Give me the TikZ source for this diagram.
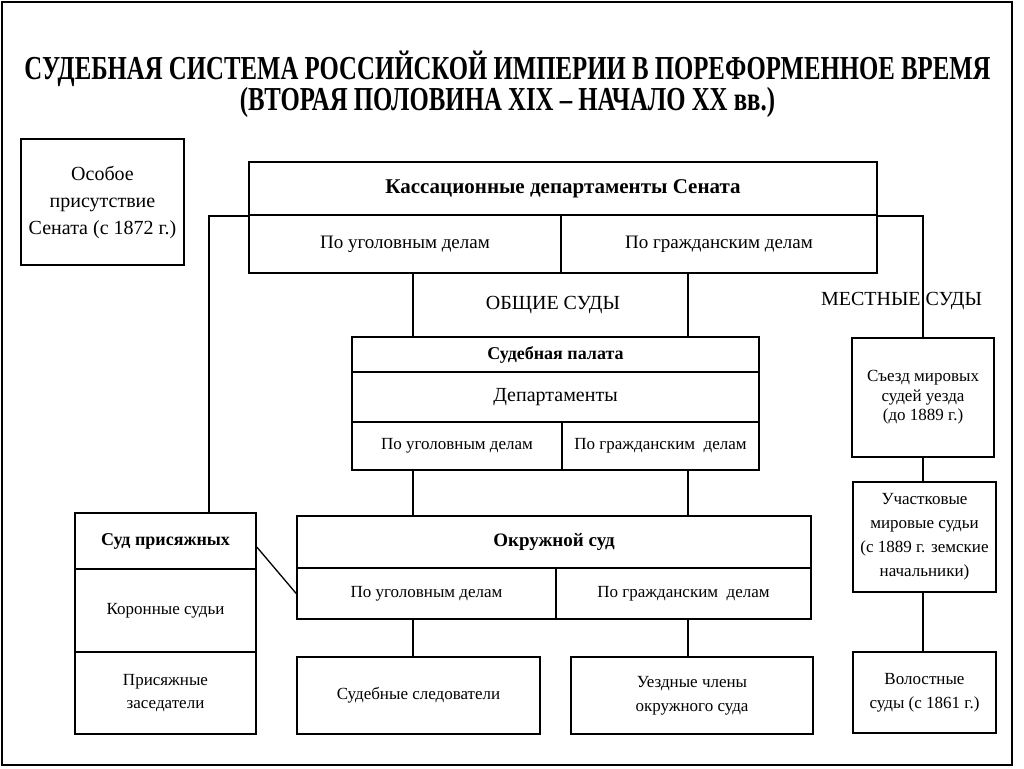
\documentclass[tikz,border=0pt]{standalone}
\usepackage{fontspec}
\usepackage{graphicx}
\setmainfont{Liberation Serif}
\newfontfamily\titlefont[FakeStretch=0.74]{Liberation Serif Bold}
\begin{document}
\begin{tikzpicture}[x=1pt,y=-1pt,
  box/.style={draw, line width=1.6pt, inner sep=0pt, align=center, anchor=center},
  ln/.style={line width=1.6pt},
  fA/.style={font=\fontsize{17}{20}\selectfont},
  fB/.style={font=\fontsize{19}{22}\selectfont},
  hd/.style={font=\fontsize{19}{22}\selectfont\bfseries}
]
\useasboundingbox (0,0) rectangle (1024,768);
\draw[line width=1.5pt] (2,2) rectangle (1012,765);

% title
\node[anchor=base, inner sep=0pt, align=center, font=\titlefont\fontsize{33.5}{30.5}\selectfont] (title) at (507.5,110) {СУДЕБНАЯ СИСТЕМА РОССИЙСКОЙ ИМПЕРИИ В ПОРЕФОРМЕННОЕ ВРЕМЯ\\(ВТОРАЯ ПОЛОВИНА XIX – НАЧАЛО XX вв.)};

% helper coordinates for vertical connectors
\coordinate (cA) at (209,0);
\coordinate (cL) at (413,0);
\coordinate (cR) at (688,0);
\coordinate (cM) at (923,0);

% Особое присутствие
\node[box, minimum width=163, minimum height=126, font=\fontsize{20}{27}\selectfont] (osob) at (102.5,202) {Особое\\присутствие\\Сената (с 1872 г.)};

% Кассационные департаменты
\node[box, minimum width=628, minimum height=53, font=\fontsize{21}{24}\selectfont\bfseries] (kasT) at (563,188.5) {Кассационные департаменты Сената};
\node[box, minimum width=312, minimum height=58, fB] (kasL) at (405,244) {По уголовным делам};
\node[box, minimum width=316, minimum height=58, fB] (kasR) at (719,244) {По гражданским делам};

% labels
\node[inner sep=0pt, font=\fontsize{20}{22}\selectfont] (obsh) at (553,305) {ОБЩИЕ СУДЫ};
\node[inner sep=0pt, font=\fontsize{20}{22}\selectfont] (mest) at (901.5,301) {МЕСТНЫЕ СУДЫ};

% Судебная палата
\node[box, minimum width=407, minimum height=35, font=\fontsize{18}{20}\selectfont\bfseries] (spT) at (555.5,354.5) {Судебная палата};
\node[box, minimum width=407, minimum height=50, font=\fontsize{20}{22}\selectfont] (spM) at (555.5,397) {Департаменты};
\node[box, minimum width=210, minimum height=48, fA] (spL) at (457,446) {По уголовным делам};
\node[box, minimum width=197, minimum height=48, fA] (spR) at (660.5,446) {По гражданским\ \ делам};

% Окружной суд
\node[box, minimum width=514, minimum height=52, hd] (okT) at (554,542) {Окружной суд};
\node[box, minimum width=259, minimum height=51, fA] (okL) at (426.5,593.5) {По уголовным делам};
\node[box, minimum width=255, minimum height=51, fA] (okR) at (683.5,593.5) {По гражданским\ \ делам};

% Суд присяжных
\node[box, minimum width=181, minimum height=56, font=\fontsize{18}{20}\selectfont\bfseries] (prisT) at (165.5,541) {Суд присяжных};
\node[box, minimum width=181, minimum height=83, fA] (prisM) at (165.5,610.5) {Коронные судьи};
\node[box, minimum width=181, minimum height=82, font=\fontsize{17}{23}\selectfont] (prisB) at (165.5,693) {Присяжные\\заседатели};

% bottom boxes
\node[box, minimum width=243, minimum height=77, fA] (sled) at (418.5,695.5) {Судебные следователи};
\node[box, minimum width=242, minimum height=77, font=\fontsize{17}{24}\selectfont] (uezd) at (692,695.5) {Уездные члены\\окружного суда};

% местные суды
\node[box, minimum width=142, minimum height=119, font=\fontsize{17}{19.5}\selectfont] (sezd) at (923,397.5) {Съезд мировых\\судей уезда\\(до 1889 г.)};
\node[box, minimum width=143, minimum height=110, font=\fontsize{17}{24}\selectfont] (uch) at (924.5,537) {Участковые\\мировые судьи\\(с 1889 г. земские\\начальники)};
\node[box, minimum width=143, minimum height=81, font=\fontsize{17}{24}\selectfont] (vol) at (924.5,692.5) {Волостные\\суды (с 1861 г.)};

% connectors
\draw[ln] (prisT.north -| cA) |- (kasT.south west);
\draw[ln] (kasT.south east) -| (sezd.north);
\draw[ln] (kasL.south -| cL) -- (spT.north -| cL);
\draw[ln] (kasR.south -| cR) -- (spT.north -| cR);
\draw[ln] (spL.south -| cL) -- (okT.north -| cL);
\draw[ln] (spR.south -| cR) -- (okT.north -| cR);
\draw[ln] (okL.south -| cL) -- (sled.north -| cL);
\draw[ln] (okR.south -| cR) -- (uezd.north -| cR);
\draw[ln] (sezd.south -| cM) -- (uch.north -| cM);
\draw[ln] (uch.south -| cM) -- (vol.north -| cM);
\draw[line width=1.3pt] ([yshift=-6pt]prisT.east) -- (okL.west);
\end{tikzpicture}
\end{document}
